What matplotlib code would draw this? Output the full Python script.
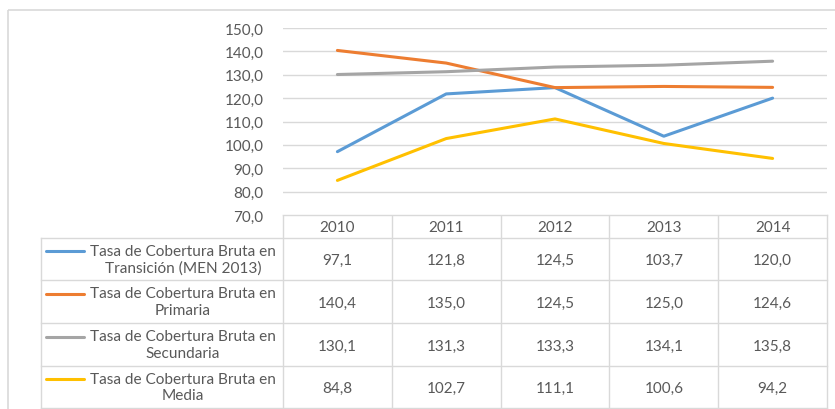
import matplotlib
matplotlib.use("Agg")
import matplotlib.pyplot as plt
from matplotlib.patches import Rectangle

plt.rcParams['font.family'] = ['Lato', 'DejaVu Sans']

years = ["2010", "2011", "2012", "2013", "2014"]
series_names = [
    "Tasa de Cobertura Bruta en\nTransición (MEN 2013)",
    "Tasa de Cobertura Bruta en\nPrimaria",
    "Tasa de Cobertura Bruta en\nSecundaria",
    "Tasa de Cobertura Bruta en\nMedia",
]
transicion = [97.1, 121.8, 124.5, 103.7, 120.0]
primaria = [140.4, 135.0, 124.5, 125.0, 124.6]
secundaria = [130.1, 131.3, 133.3, 134.1, 135.8]
media = [84.8, 102.7, 111.1, 100.6, 94.2]
series = [transicion, primaria, secundaria, media]
colors = ["#5B9BD5", "#ED7D31", "#A5A5A5", "#FFC000"]
yticks = [70, 80, 90, 100, 110, 120, 130, 140, 150]

W, H = 835, 410
fig = plt.figure(figsize=(W / 100, H / 100), dpi=100)
txt_color = "#595959"
grid_color = "#D9D9D9"
fs = 11

# plot area in pixels
px0, px1 = 283, 827
py_top, py_bot = 29, 216
ax = fig.add_axes([px0 / W, 1 - py_bot / H, (px1 - px0) / W, (py_bot - py_top) / H])
ax.set_xlim(-0.5, len(years) - 0.5)
ax.set_ylim(70, 150)
ax.set_yticks(yticks)
ax.set_yticklabels([f"{v:.1f}".replace(".", ",") for v in yticks], color=txt_color, fontsize=fs)
ax.tick_params(axis='y', length=0, pad=14)
ax.set_xticks([])
for s in ax.spines.values():
    s.set_visible(False)
ax.grid(axis='y', color=grid_color, linewidth=1)
ax.set_axisbelow(True)
for vals, c in zip(series, colors):
    ax.plot(range(len(years)), vals, color=c, linewidth=2.2, solid_capstyle='round')

# overlay for table in pixel coordinates
ov = fig.add_axes([0, 0, 1, 1], zorder=-1)
ov.set_xlim(0, W)
ov.set_ylim(H, 0)
ov.axis('off')

# outer chart border
ov.add_patch(Rectangle((8, 11), 840, 420, fill=False, edgecolor=grid_color, linewidth=1.2))

col_w = (px1 - px0) / len(years)
col_edges = [px0 + i * col_w for i in range(len(years) + 1)]
row_edges = [216, 239, 281, 324, 367, 409]
leg_x0 = 41

lc = grid_color
for x in col_edges:
    ov.plot([x, x], [row_edges[0], row_edges[-1]], color=lc, lw=1)
ov.plot([leg_x0, leg_x0], [row_edges[1], row_edges[-1]], color=lc, lw=1)
ov.plot([px0, px1], [row_edges[0], row_edges[0]], color=lc, lw=1)
for y in row_edges[1:]:
    ov.plot([leg_x0, px1], [y, y], color=lc, lw=1)

for i, yr in enumerate(years):
    ov.text(px0 + (i + 0.5) * col_w, (row_edges[0] + row_edges[1]) / 2 + 1, yr,
            ha='center', va='center', color=txt_color, fontsize=fs)

for r, (name, vals, c) in enumerate(zip(series_names, series, colors)):
    yc = (row_edges[r + 1] + row_edges[r + 2]) / 2
    ov.plot([46, 84], [yc - 8, yc - 8], color=c, lw=2.2, solid_capstyle='round')
    ov.text(183, yc, name, ha='center', va='center', color=txt_color,
            fontsize=fs + 0.1, linespacing=1.2)
    for i, v in enumerate(vals):
        ov.text(px0 + (i + 0.5) * col_w, yc + 1, f"{v:.1f}".replace(".", ","),
                ha='center', va='center', color=txt_color, fontsize=fs)

fig.savefig("out.png", dpi=100)
